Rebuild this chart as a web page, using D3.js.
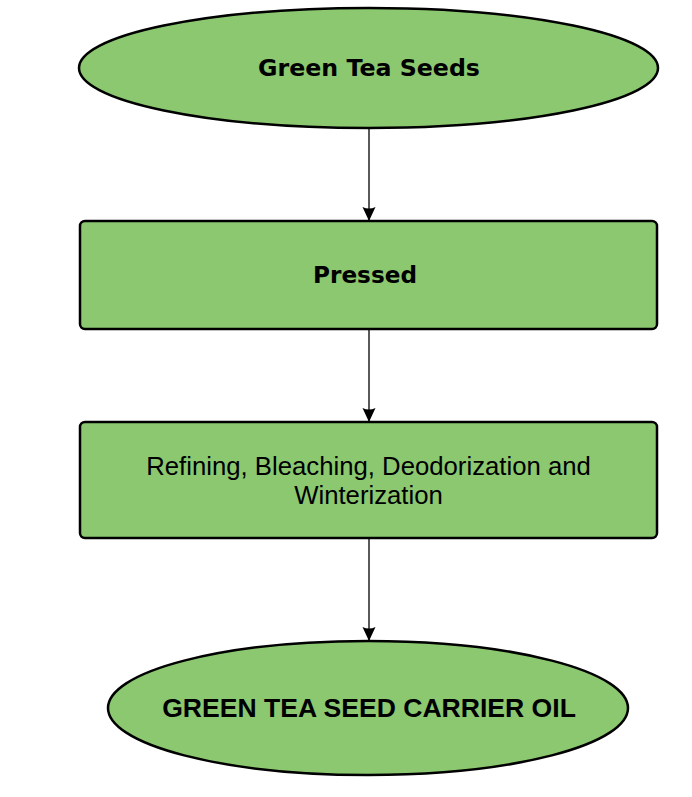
<!DOCTYPE html>
<html>
<head>
<meta charset="utf-8">
<script src="https://cdn.jsdelivr.net/npm/d3@7"></script>
<style>
  body { margin: 0; background: #fff; }
</style>
</head>
<body>
<svg id="chart"></svg>
<script>
// flow steps, top to bottom
var steps = ["Green Tea Seeds", "Pressed", "Refining, Bleaching, Deodorization and|Winterization", "GREEN TEA SEED CARRIER OIL"];
var shapes = ["ellipse", "rect", "rect", "ellipse"];
var fonts = ["verdana", "verdana", "arial", "arialbold"];

var width = 692, height = 797;
var fill = "#8bc870";

// box geometry (layout only), tx = text centre
var boxes = [
  {x0: 79, x1: 658, y0: 8, y1: 128, tw: 222, tx: 369},
  {x0: 80, x1: 657, y0: 221, y1: 329, tw: 104, tx: 365},
  {x0: 80, x1: 657, y0: 422, y1: 538, tw: 445, tx: 368.5},
  {x0: 108, x1: 628, y0: 641, y1: 775, tw: 414, tx: 369}
];

var fontFamily = {
  verdana: "Verdana, 'DejaVu Sans', sans-serif",
  arial: "Arial, 'Liberation Sans', sans-serif",
  arialbold: "Arial, 'Liberation Sans', sans-serif"
};

var svg = d3.select("#chart").attr("width", width).attr("height", height);

var defs = svg.append("defs");
defs.append("marker")
  .attr("id", "arrow")
  .attr("viewBox", "0 0 14 14")
  .attr("refX", 14).attr("refY", 7)
  .attr("markerWidth", 14).attr("markerHeight", 14)
  .attr("markerUnits", "userSpaceOnUse")
  .attr("orient", "auto")
  .append("path")
    .attr("d", "M0,0.5 L14,7 L0,13.5 Q3,7 0,0.5 Z")
    .attr("fill", "#000");

var ax = 369;

// connectors
var links = d3.range(steps.length - 1);
svg.append("g").selectAll("line")
  .data(links)
  .enter().append("line")
    .attr("x1", ax).attr("x2", ax)
    .attr("y1", function(i){ return boxes[i].y1; })
    .attr("y2", function(i){ return boxes[i + 1].y0; })
    .attr("stroke", "#000")
    .attr("stroke-width", 1.3)
    .attr("marker-end", "url(#arrow)");

var nodes = svg.append("g").selectAll("g")
  .data(steps)
  .enter().append("g");

nodes.each(function(label, i){
  var g = d3.select(this), b = boxes[i];
  if (shapes[i] == "ellipse") {
    g.append("ellipse")
      .attr("cx", (b.x0 + b.x1) / 2)
      .attr("cy", (b.y0 + b.y1) / 2)
      .attr("rx", (b.x1 - b.x0) / 2)
      .attr("ry", (b.y1 - b.y0) / 2)
      .attr("fill", fill).attr("stroke", "#000").attr("stroke-width", 2.5);
  } else {
    g.append("rect")
      .attr("x", b.x0).attr("y", b.y0)
      .attr("width", b.x1 - b.x0).attr("height", b.y1 - b.y0)
      .attr("rx", 5).attr("ry", 5)
      .attr("fill", fill).attr("stroke", "#000").attr("stroke-width", 2.5);
  }

  var lines = label.split("|");
  var cy = (b.y0 + b.y1) / 2;
  var lh = 29;
  var t = g.append("text")
    .attr("text-anchor", "middle")
    .attr("font-family", fontFamily[fonts[i]])
    .attr("font-weight", fonts[i] == "arial" ? "normal" : "bold")
    .attr("fill", "#000")
    .attr("font-size", 100);
  lines.forEach(function(l, k){
    t.append("tspan")
      .attr("x", b.tx)
      .attr("y", cy + (k - (lines.length - 1) / 2) * lh)
      .attr("dy", "0.35em")
      .text(l);
  });
  // fit first line to the width
  var w = t.select("tspan").node().getComputedTextLength();
  t.attr("font-size", 100 * b.tw / w);
});
</script>
</body>
</html>
